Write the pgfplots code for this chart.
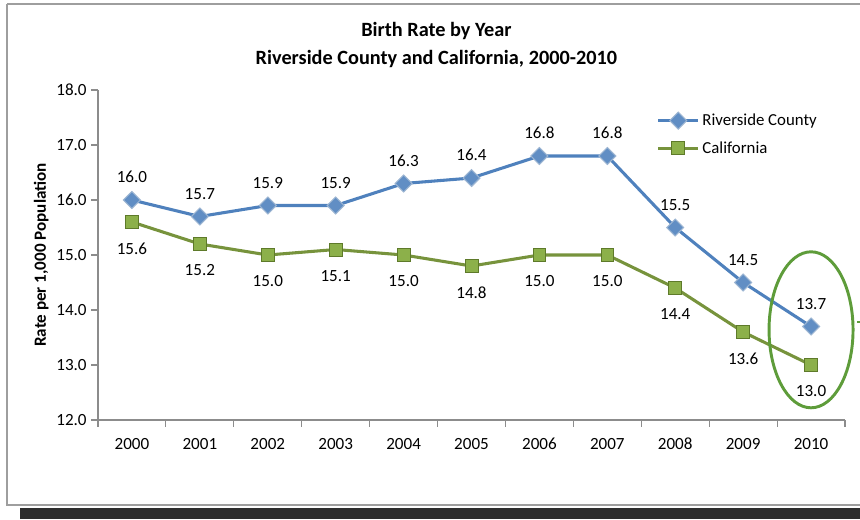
\documentclass[border=0pt]{standalone}
\usepackage{pgfplots}
\pgfplotsset{compat=1.18}
\usepackage{fontspec}
\setmainfont{Carlito}
\definecolor{rblue}{HTML}{4F81BD}
\definecolor{rbluedk}{HTML}{3A6AA6}
\definecolor{cgreen}{HTML}{77933C}
\definecolor{cgreenfill}{HTML}{8CB04A}
\definecolor{cgreendk}{HTML}{5E7A2A}
\definecolor{ellgreen}{HTML}{5E9C3A}
\definecolor{axgray}{HTML}{8C8C8C}
\pgfplotstableread{
x y
0 16.0
1 15.7
2 15.9
3 15.9
4 16.3
5 16.4
6 16.8
7 16.8
8 15.5
9 14.5
10 13.7
}\riverside
\pgfplotstableread{
x y
0 15.6
1 15.2
2 15.0
3 15.1
4 15.0
5 14.8
6 15.0
7 15.0
8 14.4
9 13.6
10 13.0
}\california
\begin{document}
\begin{tikzpicture}
\path[use as bounding box] (0pt,0pt) rectangle (645pt,389.25pt);
% outer frame
\draw[line width=2.2pt, draw=black!38] (5.25pt,386.25pt) -- (5.25pt,10.5pt) -- (647pt,10.5pt);
\draw[line width=2.2pt, draw=black!38] (5.25pt,386.25pt) -- (647pt,386.25pt);
\fill[black!82] (15pt,0pt) rectangle (645pt,8.25pt);
\begin{axis}[
  at={(73.5pt,74.25pt)}, anchor=south west,
  scale only axis, width=560.25pt, height=247.5pt,
  xmin=-0.5, xmax=10.5, ymin=12, ymax=18,
  axis x line*=bottom, axis y line*=left,
  axis line style={axgray, line width=0.8pt},
  xtick={0,...,10},
  xticklabels={2000,2001,2002,2003,2004,2005,2006,2007,2008,2009,2010},
  minor xtick={-0.5,0.5,...,10.5},
  major x tick style={draw=none},
  minor tick style={axgray, line width=0.8pt},
  minor tick length=5pt,
  ytick={12,13,...,18},
  major tick length=5pt,
  ytick style={axgray, line width=0.8pt},
  tick align=outside,
  /pgf/number format/assume math mode=true,
  yticklabel style={/pgf/number format/.cd, fixed, fixed zerofill, precision=1},
  tick label style={font=\fontsize{12.8}{14}\selectfont, text=black},
  xticklabel style={yshift=-5pt},
  ylabel={\textbf{Rate per 1,000 Population}},
  ylabel style={font=\fontsize{12.8}{14}\selectfont, yshift=-1pt},
  title={\textbf{Birth Rate by Year}\\[3pt]\textbf{Riverside County and California, 2000-2010}},
  title style={font=\fontsize{15.2}{18}\selectfont, align=center, at={(0.453,1)}, yshift=7pt},
  legend style={draw=none, fill=none, at={(0.742,0.945)}, anchor=north west,
    font=\fontsize{12.6}{14}\selectfont, row sep=6.5pt,
    /tikz/every even column/.append style={column sep=2pt}},
  legend cell align=left,
  legend image code/.code={\draw[mark repeat=2,mark phase=2] plot coordinates {(0cm,0cm) (0.53cm,0cm) (1.06cm,0cm)};},
  clip=false,
  point meta=y,
  nodes near coords={\pgfmathprintnumber[fixed,fixed zerofill,precision=1]{\pgfplotspointmeta}},
  every node near coord/.append style={font=\fontsize{12.8}{14}\selectfont, text=black},
]
\addplot[rblue, line width=2.3pt, mark=square*, mark size=4.5pt,
  mark options={rotate=45, fill=rblue!90, draw=rbluedk!50!white, line width=0.8pt},
  nodes near coords align={above}, every node near coord/.append style={yshift=9pt}]
  table[x=x,y=y]{\riverside};
\addlegendentry{Riverside County}
\addplot[cgreen, line width=2.3pt, mark=square*, mark size=4.8pt,
  mark options={fill=cgreenfill, draw=cgreendk, line width=0.6pt},
  nodes near coords align={below}, every node near coord/.append style={yshift=-12pt}]
  table[x=x,y=y]{\california};
\addlegendentry{California}
\draw[ellgreen, line width=2.2pt] (axis cs:10,13.64) ellipse [x radius=31.5pt, y radius=58.5pt];
\end{axis}
\draw[ellgreen, line width=1.5pt] (642.75pt,147.75pt) -- (645pt,147.75pt);
\end{tikzpicture}
\end{document}
